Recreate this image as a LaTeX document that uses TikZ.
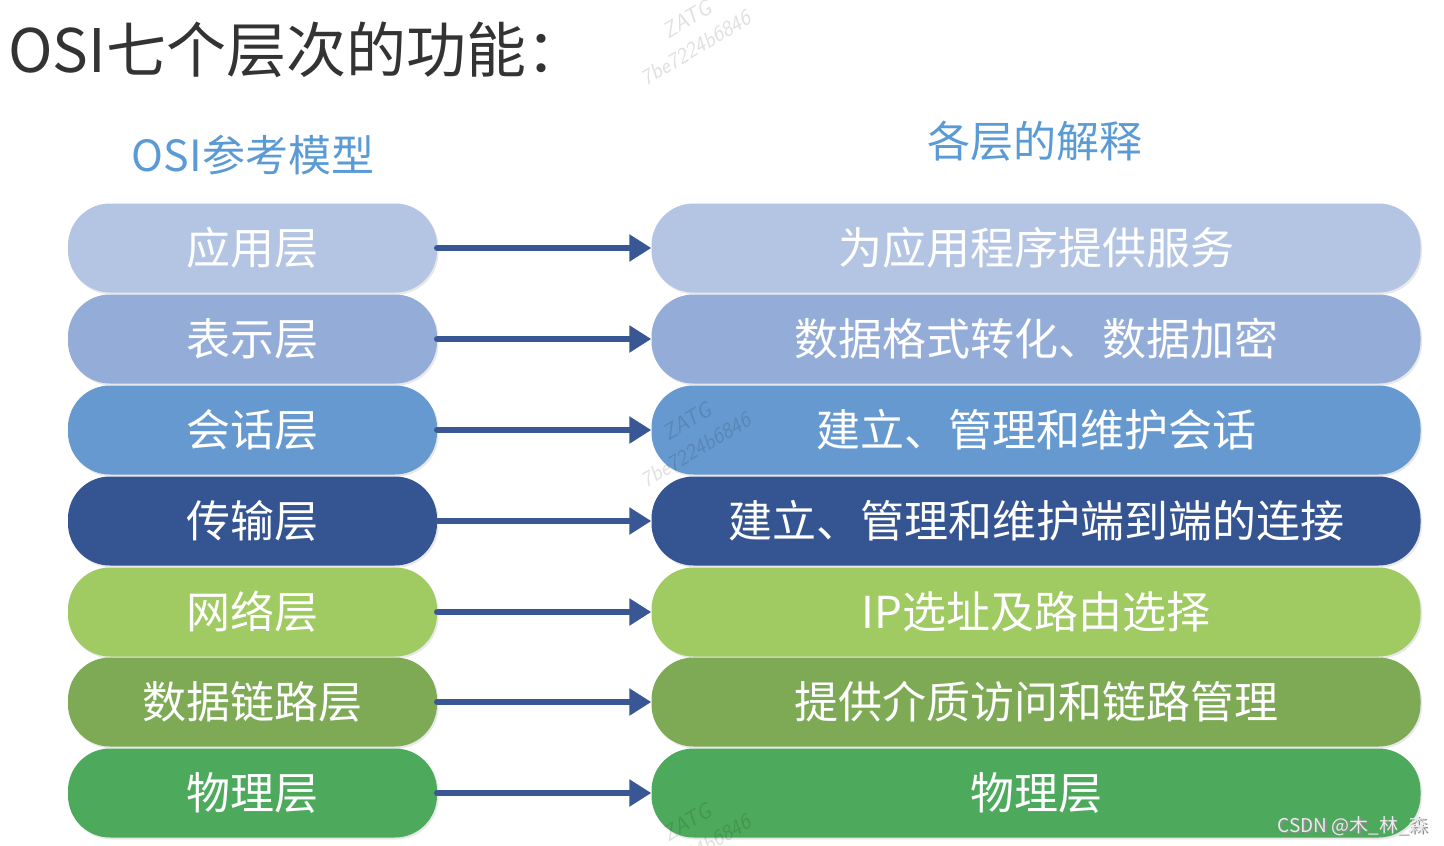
\documentclass[tikz,border=0pt]{standalone}
\usepackage{fontspec}
\setmainfont{Noto Sans CJK SC}
\newfontfamily\cjk{Noto Sans CJK SC}
\usetikzlibrary{arrows.meta,shadows}
\definecolor{c1}{HTML}{B4C5E4}
\definecolor{c2}{HTML}{94ACD8}
\definecolor{c3}{HTML}{6699CF}
\definecolor{c4}{HTML}{355492}
\definecolor{c5}{HTML}{A0CA62}
\definecolor{c6}{HTML}{7FAA55}
\definecolor{c7}{HTML}{4DAA5C}
\definecolor{arrowblue}{HTML}{3A5795}
\definecolor{headblue}{HTML}{5B9BD5}
\definecolor{titlegray}{HTML}{333333}
\tikzset{
  layerbox/.style={rounded corners=42pt, minimum height=89pt, inner sep=0pt,
    text=white, font=\cjk\fontsize{44}{48}\selectfont,
    drop shadow={shadow xshift=1.5pt, shadow yshift=-2pt, opacity=0.18}},
  leftbox/.style={layerbox, minimum width=369pt},
  rightbox/.style={layerbox, minimum width=769pt},
  linkarrow/.style={draw=arrowblue, line width=6.5pt, line cap=round,
    -{Triangle[length=22pt,width=26pt]}},
  header/.style={text=headblue, font=\cjk\fontsize{43}{48}\selectfont},
  wmark/.style={text=black, text opacity=0.12, font=\sffamily\itshape\fontsize{22}{24}\selectfont, rotate=31, anchor=west, inner sep=0pt}
}
\begin{document}
\begin{tikzpicture}[x=1pt,y=-1pt]
\useasboundingbox (0,0) rectangle (1444,846);
\fill[white] (0,0) rectangle (1444,846);
% title
\node[anchor=west, text=titlegray, font=\cjk\fontsize{60}{64}\selectfont, inner sep=0pt] (title) at (8,50) {OSI七个层次的功能：};
% headers
\node[header] (h1) at (253,155) {OSI参考模型};
\node[header] (h2) at (1035,141) {各层的解释};
% rows
\foreach \i/\y/\l/\r in {
  1/248/应用层/为应用程序提供服务,
  2/339/表示层/数据格式转化、数据加密,
  3/430/会话层/建立、管理和维护会话,
  4/521/传输层/建立、管理和维护端到端的连接,
  5/612/网络层/IP选址及路由选择,
  6/702/数据链路层/提供介质访问和链路管理,
  7/793/物理层/物理层}{
  \node[leftbox, fill=c\i] (L\i) at (252.5,\y) {\l};
  \node[rightbox, fill=c\i] (R\i) at (1036,\y) {\r};
  \draw[linkarrow] (L\i.east) -- (R\i.west);
}
% watermarks
\node[wmark] (wm1a) at (664,33) {ZATG};
\node[wmark] (wm1b) at (642,80) {7be7224b6846};
\node[wmark] (wm2a) at (664,435) {ZATG};
\node[wmark] (wm2b) at (642,482) {7be7224b6846};
\node[wmark] (wm3a) at (664,836) {ZATG};
\node[wmark] (wm3b) at (642,884) {7be7224b6846};
% credit
\node[anchor=east, text=black!45, font=\fontsize{19}{20}\selectfont, inner sep=0pt] (credit0) at (1429.5,827.5) {CSDN @木\_林\_森};
\node[anchor=east, text=black!8, font=\fontsize{19}{20}\selectfont, inner sep=0pt] (credit) at (1428,826) {CSDN @木\_林\_森};
\end{tikzpicture}
\end{document}
